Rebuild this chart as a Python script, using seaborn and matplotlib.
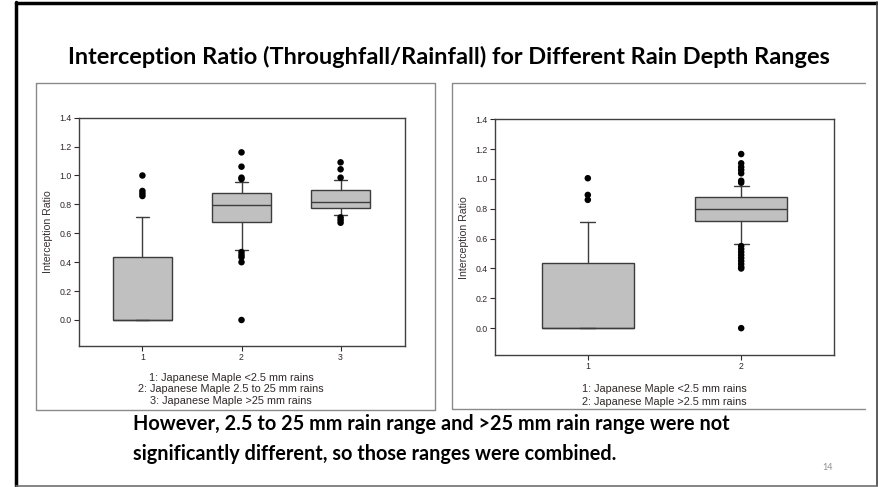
import matplotlib.pyplot as plt
from matplotlib.lines import Line2D
import seaborn as sns
import pandas as pd

# ---- left panel: three rain depth ranges (summary stats)
left_groups = ["1", "2", "3"]
left_whislo = [0.0, 0.484, 0.727]
left_q1 = [0.0, 0.676, 0.775]
left_med = [0.0, 0.794, 0.815]
left_q3 = [0.438, 0.881, 0.900]
left_whishi = [0.713, 0.953, 0.967]
left_fliers = [
    [0.858, 0.875, 0.893, 1.0],
    [0.0, 0.40, 0.434, 0.45, 0.47, 0.975, 0.985, 1.061, 1.16],
    [0.673, 0.692, 0.71, 0.985, 1.043, 1.091],
]
left_notes = ["1: Japanese Maple <2.5 mm rains",
              "2: Japanese Maple 2.5 to 25 mm rains",
              "3: Japanese Maple >25 mm rains"]

# ---- right panel: ranges above 2.5 mm combined
right_groups = ["1", "2"]
right_whislo = [0.0, 0.565]
right_q1 = [0.0, 0.721]
right_med = [0.0, 0.801]
right_q3 = [0.437, 0.879]
right_whishi = [0.71, 0.953]
right_fliers = [
    [0.86, 0.893, 1.005],
    [0.0, 0.40, 0.41, 0.43, 0.45, 0.47, 0.49, 0.51, 0.53, 0.55,
     0.975, 0.988, 1.038, 1.06, 1.08, 1.105, 1.167],
]
right_notes = ["1: Japanese Maple <2.5 mm rains",
               "2: Japanese Maple >2.5 mm rains"]

y_ticks = [0.0, 0.2, 0.4, 0.6, 0.8, 1.0, 1.2, 1.4]

title = "Interception Ratio (Throughfall/Rainfall) for Different Rain Depth Ranges"
footer = ["However, 2.5 to 25 mm rain range and >25 mm rain range were not",
          "significantly different, so those ranges were combined."]

sns.set_style("white")
plt.rcParams['font.family'] = ['Liberation Sans', 'DejaVu Sans']

BOX_EDGE = "#3c3c3c"
TXT = "#302828"


def draw_panel(ax, groups, whislo, q1, med, q3, whishi, fliers, capw):
    stats = []
    for i in range(len(groups)):
        stats.append(dict(whislo=whislo[i], q1=q1[i], med=med[i], q3=q3[i],
                          whishi=whishi[i], fliers=[]))
    pos = list(range(len(groups)))
    ax.bxp(stats, positions=pos, widths=0.6, capwidths=capw, patch_artist=True,
           showfliers=False,
           boxprops=dict(facecolor="#c0c0c0", edgecolor=BOX_EDGE, linewidth=1.0),
           medianprops=dict(color=BOX_EDGE, linewidth=1.0),
           whiskerprops=dict(color=BOX_EDGE, linewidth=1.0),
           capprops=dict(color=BOX_EDGE, linewidth=1.0))
    pts = pd.DataFrame({
        "x": [i for i, f in enumerate(fliers) for _ in f],
        "y": [v for f in fliers for v in f],
    })
    sns.scatterplot(data=pts, x="x", y="y", ax=ax, color="black", s=22,
                    edgecolor="none", zorder=5)
    n = len(groups)
    ax.set_xlim(-0.64 if n == 3 else -0.605, n - 1 + (0.65 if n == 3 else 0.607))
    ax.set_ylim(-0.18, 1.4)
    ax.set_xticks(pos)
    ax.set_xticklabels(groups)
    ax.set_yticks(y_ticks)
    ax.set_yticklabels([f"{t:.1f}" for t in y_ticks])
    ax.set_xlabel("")
    ax.set_ylabel("Interception Ratio", fontsize=7.6, color="#3a3030", labelpad=5)
    ax.tick_params(axis="both", labelsize=6.3, colors=TXT, direction="out",
                   length=3.6, width=0.8, left=True, bottom=True, pad=1.5)
    for sp in ax.spines.values():
        sp.set_color("#404040")
        sp.set_linewidth(1.0)


fig = plt.figure(figsize=(8.79, 4.87), dpi=100)
W, H = 879.0, 487.0


def fx(px):
    return px / W


def fy(py):
    return 1 - py / H


# slide border
fig.add_artist(Line2D([fx(16), fx(16)], [fy(2), fy(486)], color="black", lw=2.5))
fig.add_artist(Line2D([fx(16), fx(877)], [fy(3), fy(3)], color="black", lw=2.5))
fig.add_artist(Line2D([fx(877), fx(877)], [fy(2), fy(486)], color="#404040", lw=1.2))
fig.add_artist(Line2D([fx(16), fx(877)], [fy(485.5), fy(485.5)], color="#707070", lw=1.2))

# panel frames
pc = "#8a8a8a"
fig.add_artist(Line2D([fx(36), fx(435), fx(435), fx(36), fx(36)],
                      [fy(83), fy(83), fy(410), fy(410), fy(83)], color=pc, lw=1.0))
fig.add_artist(Line2D([fx(865), fx(452), fx(452), fx(865)],
                      [fy(83), fy(83), fy(409), fy(409)], color=pc, lw=1.0))

ax1 = fig.add_axes([fx(79), fy(346), fx(405) - fx(79), fy(117.7) - fy(346)])
draw_panel(ax1, left_groups, left_whislo, left_q1, left_med, left_q3,
           left_whishi, left_fliers, 0.13)

ax2 = fig.add_axes([fx(495), fy(355), fx(834.3) - fx(495), fy(119.3) - fy(355)])
draw_panel(ax2, right_groups, right_whislo, right_q1, right_med, right_q3,
           right_whishi, right_fliers, 0.1)

# notes under each chart
for i, t in enumerate(left_notes):
    fig.text(fx(231), fy(378 + 11.3 * i), t, ha="center", va="center",
             fontsize=7.8, color=TXT)
for i, t in enumerate(right_notes):
    fig.text(fx(664.5), fy(389 + 12.7 * i), t, ha="center", va="center",
             fontsize=7.8, color=TXT)

fig.text(fx(448.5), fy(57), title, ha="center", va="center", fontsize=16.9,
         fontweight="bold", family=["Lato", "DejaVu Sans"], color="black")
for i, t in enumerate(footer):
    fig.text(fx(133), fy(424 + 29.5 * i), t, ha="left", va="center", fontsize=14.3,
             fontweight="bold", family=["Lato", "DejaVu Sans"], color="black")
fig.text(fx(828), fy(467), "14", ha="center", va="center", fontsize=6.5,
         color="#909090", family=["Lato", "DejaVu Sans"])

fig.savefig("out.png", dpi=100)
plt.close(fig)
